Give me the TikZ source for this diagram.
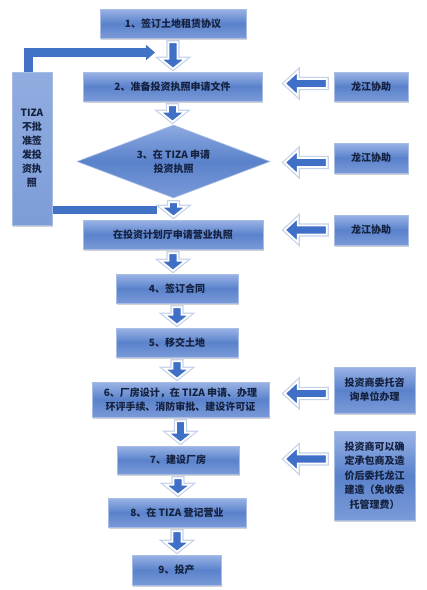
\documentclass[tikz,border=0pt]{standalone}
\usepackage{fontspec}
\setmainfont{Noto Sans CJK SC}
\usetikzlibrary{shapes.geometric,shadows,calc,arrows.meta}
\definecolor{boxtop}{HTML}{9AB3E6}
\definecolor{boxmid}{HTML}{5A82CB}
\definecolor{boxbot}{HTML}{7A9AD8}
\definecolor{boxline}{HTML}{A8BDE6}
\definecolor{txt}{HTML}{14213F}
\definecolor{arrblue}{HTML}{3F6FC6}
\definecolor{glow}{HTML}{C3D2EA}
\definecolor{fbblue}{HTML}{4172C6}
\definecolor{tizafill}{HTML}{7D9DD9}
\tikzset{
  box/.style={rectangle, draw=boxline, line width=0.6pt,
    top color=boxtop, bottom color=boxbot, middle color=boxmid,
    drop shadow={shadow xshift=1.2pt, shadow yshift=-1.6pt, opacity=0.35},
    text=txt, font=\bfseries\fontsize{10}{14}\selectfont, inner sep=0pt, align=center},
  dia/.style={diamond, draw=boxline, line width=0.6pt,
    top color=boxtop!80!boxmid, bottom color=boxbot, middle color=boxmid,
    text=txt, font=\bfseries\fontsize{10}{14}\selectfont, inner sep=0pt, align=center, aspect=2.64},
  tizabox/.style={rectangle, draw=boxline, line width=0.6pt,
    top color=tizafill!85!white, bottom color=tizafill,
    drop shadow={shadow xshift=1.2pt, shadow yshift=-1.6pt, opacity=0.35},
    text=txt, font=\bfseries\fontsize{10}{14}\selectfont, inner sep=0pt, align=center},
  blockarr/.style={fill=arrblue, draw=white, line width=1.8pt, line join=miter,
    preaction={draw=glow, line width=4.2pt}},
  fbarrow/.style={draw=fbblue, line width=8.5pt, line join=miter},
}
\newcommand\downblock[2]{%
  \path[blockarr] let \p1=($(#1.south)+(0,4)$), \p2=($(#2.north)+(0,-3)$) in
    (\x1-4.5pt,\y1) -- (\x1+4.5pt,\y1) -- (\x1+4.5pt,\y2+10pt) -- (\x1+12.5pt,\y2+10pt)
    -- (\x1,\y2) -- (\x1-12.5pt,\y2+10pt) -- (\x1-4.5pt,\y2+10pt) -- cycle;}
\newcommand\leftblock[2]{%
  \path[blockarr] let \p1=($(#1.west)+(-7,#2)$) in
    (\x1,\y1+4.5pt) -- (\x1-29pt,\y1+4.5pt) -- (\x1-29pt,\y1+12pt) -- (\x1-42pt,\y1)
    -- (\x1-29pt,\y1-12pt) -- (\x1-29pt,\y1-4.5pt) -- (\x1,\y1-4.5pt) -- cycle;}
\begin{document}
\begin{tikzpicture}[x=1pt,y=-1pt]
\useasboundingbox (0,0) rectangle (427,590);
% main column
\node[box, minimum width=146pt, minimum height=29pt] (b1) at (173,23.5) {1、签订土地租赁协议};
\node[box, minimum width=179pt, minimum height=29pt] (b2) at (172.5,86.5) {2、准备投资执照申请文件};
\node[dia, minimum width=193pt, minimum height=73pt] (d3) at (173.5,161.5) {3、在 TIZA 申请\\投资执照};
\node[box, minimum width=180pt, minimum height=29pt] (bz) at (173,234.5) {在投资计划厅申请营业执照};
\node[box, minimum width=122pt, minimum height=29pt] (b4) at (177,288.5) {4、签订合同};
\node[box, minimum width=122pt, minimum height=29pt] (b5) at (177,342.5) {5、移交土地};
\node[box, minimum width=177pt, minimum height=35pt] (b6) at (180.5,399.5) {6、厂房设计，在 TIZA 申请、办理\\环评手续、消防审批、建设许可证};
\node[box, minimum width=122pt, minimum height=28pt] (b7) at (178,460) {7、建设厂房};
\node[box, minimum width=138pt, minimum height=29pt] (b8) at (177,512.5) {8、在 TIZA 登记营业};
\node[box, minimum width=89pt, minimum height=30pt] (b9) at (176.5,570) {9、投产};
% right column
\node[box, minimum width=74pt, minimum height=29pt] (r1) at (371,86.5) {龙江协助};
\node[box, minimum width=74pt, minimum height=30pt] (r2) at (371,158) {龙江协助};
\node[box, minimum width=74pt, minimum height=30pt] (r3) at (371,230) {龙江协助};
\node[box, minimum width=81pt, minimum height=46pt] (r4) at (374.5,390) {投资商委托咨\\询单位办理};
\node[box, minimum width=81pt, minimum height=89pt, font=\bfseries\fontsize{10}{14.5}\selectfont] (r5) at (374.5,475.5) {投资商可以确\\定承包商及造\\价后委托龙江\\建造（免收委\\托管理费）};
% left feedback box
\node[tizabox, minimum width=40pt, minimum height=153pt] (tiza) at (32,148.5) {TIZA\\不批\\准签\\发投\\资执\\照};
% feedback connectors
\coordinate (fbtip) at (155,52.5);
\coordinate (barend) at (157,210);
\draw[fbarrow, -{Triangle[width=15pt,length=9pt]}] ($(tiza.north west)+(17,0.5)$) |- (fbtip);
\draw[fbarrow, line width=7.5pt] ($(tiza.east |- barend)+(0.5,0)$) -- (barend);
% down arrows
\downblock{b1}{b2}
\downblock{b2}{d3}
\downblock{d3}{bz}
\downblock{bz}{b4}
\downblock{b4}{b5}
\downblock{b5}{b6}
\downblock{b6}{b7}
\downblock{b7}{b8}
\downblock{b8}{b9}
% left arrows from right boxes
\leftblock{r1}{-3}
\leftblock{r2}{4.5}
\leftblock{r3}{0}
\leftblock{r4}{3.5}
\leftblock{r5}{-16.5}
\end{tikzpicture}
\end{document}
